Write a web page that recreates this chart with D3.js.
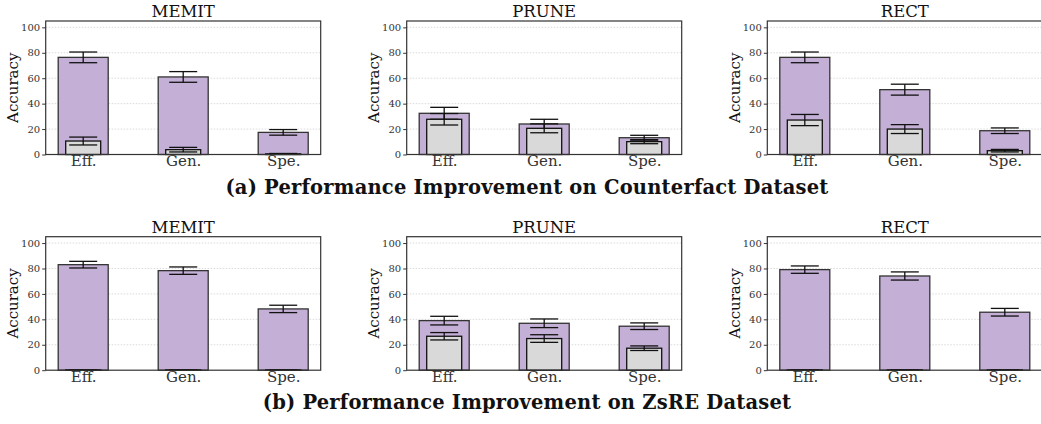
<!DOCTYPE html>
<html>
<head>
<meta charset="utf-8">
<script src="https://cdn.jsdelivr.net/npm/d3@7"></script>
<style>
  body { margin: 0; background: #fff; }
  svg { display: block; font-family: "DejaVu Serif", serif; }
  .tick text { fill: #333; }
  .caption { font-weight: bold; }
</style>
</head>
<body>
<svg id="chart" width="1041" height="424"></svg>
<script>
var categories = ["Eff.", "Gen.", "Spe."];
var methods = ["MEMIT", "PRUNE", "RECT"];
var yTicks = [0, 20, 40, 60, 80, 100];
var captions = [
  "(a) Performance Improvement on Counterfact Dataset",
  "(b) Performance Improvement on ZsRE Dataset"
];

// counterfact: edited (purple) and baseline (gray), with error bars
var cfEdited = [[76.4, 61.0, 17.4], [32.4, 24.0, 13.2], [76.4, 51.0, 18.7]];
var cfEditedErr = [[4.2, 4.2, 2.2], [4.7, 3.7, 1.9], [4.2, 4.3, 2.2]];
var cfBase = [[10.6, 3.8, 0.5], [27.7, 20.6, 10.1], [27.1, 20.0, 3.0]];
var cfBaseErr = [[3.1, 1.8, 0.3], [4.5, 3.5, 1.6], [4.4, 3.5, 1.0]];

// zsre
var zsEdited = [[83.0, 78.3, 48.2], [39.0, 36.9, 34.6], [79.1, 74.1, 45.6]];
var zsEditedErr = [[2.6, 2.9, 2.9], [3.4, 3.4, 2.6], [2.9, 3.2, 3.0]];
var zsBase = [[0.3, 0.3, 0.3], [26.7, 24.9, 17.3], [0.3, 0.3, 0.3]];
var zsBaseErr = [[0.1, 0.1, 0.1], [2.9, 3.0, 1.8], [0.1, 0.1, 0.1]];

var rows = [
  { edited: cfEdited, editedErr: cfEditedErr, base: cfBase, baseErr: cfBaseErr, top: 21, caption: captions[0] },
  { edited: zsEdited, editedErr: zsEditedErr, base: zsBase, baseErr: zsBaseErr, top: 236.7, caption: captions[1] }
];

var svg = d3.select("#chart");
var panelW = 275, panelH = 133.5;
var lefts = [45.7, 406.7, 767.3];
var purple = "#c4b0d6", gray = "#d9d9d9";

rows.forEach(function(row, r) {
  methods.forEach(function(m, mi) {
    var g = svg.append("g")
      .attr("transform", "translate(" + lefts[mi] + "," + row.top + ")");

    var x = d3.scaleLinear().domain([-0.375, 2.375]).range([0, panelW]);
    var y = d3.scaleLinear().domain([0, 105]).range([panelH, 0]);

    // grid
    g.selectAll("line.grid")
      .data(yTicks.filter(function(t) { return t > 0; }))
      .enter().append("line")
      .attr("class", "grid")
      .attr("x1", 0).attr("x2", panelW)
      .attr("y1", function(d) { return y(d); })
      .attr("y2", function(d) { return y(d); })
      .attr("stroke", "#d0d0d0")
      .attr("stroke-width", 0.8)
      .attr("stroke-dasharray", "1.5,1.5");

    var data = categories.map(function(c, i) {
      return { i: i, ev: row.edited[mi][i], ee: row.editedErr[mi][i],
               bv: row.base[mi][i], be: row.baseErr[mi][i] };
    });

    function errBar(sel, val, err, half) {
      sel.append("line")
        .attr("x1", function(d) { return x(d.i); })
        .attr("x2", function(d) { return x(d.i); })
        .attr("y1", function(d) { return y(val(d) - err(d)); })
        .attr("y2", function(d) { return y(val(d) + err(d)); });
      [1, -1].forEach(function(s) {
        sel.append("line")
          .attr("x1", function(d) { return x(d.i - half); })
          .attr("x2", function(d) { return x(d.i + half); })
          .attr("y1", function(d) { return y(val(d) + s * err(d)); })
          .attr("y2", function(d) { return y(val(d) + s * err(d)); });
      });
    }

    var bars = g.selectAll("g.cat").data(data).enter().append("g")
      .attr("class", "cat");

    bars.append("rect")
      .attr("x", function(d) { return x(d.i - 0.25); })
      .attr("width", x(0.5) - x(0))
      .attr("y", function(d) { return y(d.ev); })
      .attr("height", function(d) { return y(0) - y(d.ev); })
      .attr("fill", purple)
      .attr("stroke", "#333")
      .attr("stroke-width", 1.3);

    var e1 = bars.append("g").attr("stroke", "#111").attr("stroke-width", 1.3);
    errBar(e1, function(d) { return d.ev; }, function(d) { return d.ee; }, 0.14);

    bars.append("rect")
      .attr("x", function(d) { return x(d.i - 0.175); })
      .attr("width", x(0.35) - x(0))
      .attr("y", function(d) { return y(d.bv); })
      .attr("height", function(d) { return y(0) - y(d.bv); })
      .attr("fill", gray)
      .attr("stroke", "#111")
      .attr("stroke-width", 1.3);

    var e2 = bars.append("g").attr("stroke", "#111").attr("stroke-width", 1.3);
    errBar(e2, function(d) { return d.bv; }, function(d) { return d.be; }, 0.14);

    // frame
    g.append("rect")
      .attr("width", panelW).attr("height", panelH)
      .attr("fill", "none")
      .attr("stroke", "#333")
      .attr("stroke-width", 1.2);

    var yAxis = g.append("g")
      .call(d3.axisLeft(y).tickValues(yTicks).tickSize(3.5).tickPadding(2));
    yAxis.select(".domain").remove();
    yAxis.selectAll("text").attr("font-size", 10).attr("font-family", "DejaVu Serif");
    yAxis.selectAll("line").attr("stroke", "#333");

    var xAxis = g.append("g")
      .attr("transform", "translate(0," + panelH + ")")
      .call(d3.axisBottom(x).tickValues([0, 1, 2])
        .tickFormat(function(d) { return categories[d]; })
        .tickSize(0).tickPadding(1));
    xAxis.select(".domain").remove();
    xAxis.selectAll("text").attr("font-size", 15).attr("font-family", "DejaVu Serif")
      .attr("fill", "#111");

    g.append("text")
      .attr("x", panelW / 2).attr("y", -4)
      .attr("text-anchor", "middle")
      .attr("font-size", 16.5)
      .attr("fill", "#111")
      .text(m);

    g.append("text")
      .attr("transform", "translate(-32.7," + panelH / 2 + ") rotate(-90)")
      .attr("text-anchor", "middle")
      .attr("dy", "0.35em")
      .attr("font-size", 15)
      .attr("fill", "#111")
      .text("Accuracy");
  });

  svg.append("text")
    .attr("class", "caption")
    .attr("x", 527)
    .attr("y", row.top + 172.5)
    .attr("text-anchor", "middle")
    .attr("font-size", 19.5)
    .attr("letter-spacing", 0.2)
    .attr("fill", "#111")
    .text(row.caption);
});
</script>
</body>
</html>
